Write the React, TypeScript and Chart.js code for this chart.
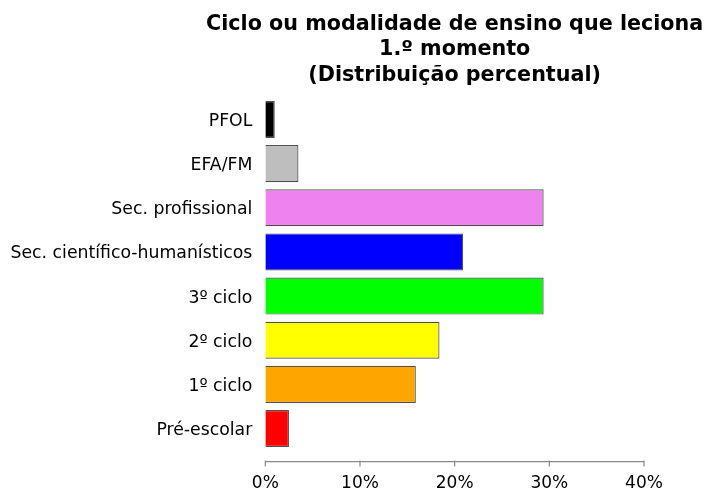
import React, { useEffect, useRef } from "react";
import { Chart, registerables } from "chart.js";

Chart.register(...registerables);

const categories = [
  "PFOL",
  "EFA/FM",
  "Sec. profissional",
  "Sec. científico-humanísticos",
  "3º ciclo",
  "2º ciclo",
  "1º ciclo",
  "Pré-escolar",
];
const values = [1.0, 3.5, 29.4, 20.9, 29.4, 18.4, 15.9, 2.5];
const barColors = [
  "#000000",
  "#BEBEBE",
  "#EE82EE",
  "#0000FF",
  "#00FF00",
  "#FFFF00",
  "#FFA500",
  "#FF0000",
];
const titleLines = [
  "Ciclo ou modalidade de ensino que leciona",
  "1.º momento",
  "(Distribuição percentual)",
];
const xTicks = [0, 10, 20, 30, 40];

const FONT = "'DejaVu Sans', sans-serif";

const axisPlugin = {
  id: "offsetAxis",
  afterDraw(chart: any) {
    const { ctx, chartArea, scales } = chart;
    const x = scales.x;
    const y = chartArea.bottom + 11;
    ctx.save();
    ctx.strokeStyle = "#8a8a8a";
    ctx.lineWidth = 1.2;
    ctx.beginPath();
    ctx.moveTo(x.getPixelForValue(xTicks[0]), y);
    ctx.lineTo(x.getPixelForValue(xTicks[xTicks.length - 1]), y);
    for (const t of xTicks) {
      const px = x.getPixelForValue(t);
      ctx.moveTo(px, y - 1);
      ctx.lineTo(px, y + 5);
    }
    ctx.stroke();
    ctx.restore();
  },
};

const titlePlugin = {
  id: "centeredTitle",
  afterDraw(chart: any) {
    const { ctx, chartArea } = chart;
    const cx = (chartArea.left + chartArea.right) / 2;
    ctx.save();
    ctx.fillStyle = "#000";
    ctx.font = `bold 20.7px ${FONT}`;
    ctx.textAlign = "center";
    ctx.textBaseline = "alphabetic";
    const baselines = [29.5, 55, 80.5];
    titleLines.forEach((line, i) => ctx.fillText(line, cx, baselines[i]));
    ctx.restore();
  },
};

export default function App() {
  const ref = useRef<HTMLCanvasElement | null>(null);
  useEffect(() => {
    if (!ref.current) return;
    const chart = new Chart(ref.current, {
      type: "bar",
      data: {
        labels: categories,
        datasets: [
          {
            data: values,
            backgroundColor: barColors,
            borderColor: "#505050",
            borderWidth: 1.2,
            categoryPercentage: 1,
            barPercentage: 0.84,
          },
        ],
      },
      options: {
        indexAxis: "y",
        animation: false,
        responsive: false,
        maintainAspectRatio: false,
        layout: { padding: { left: 0, right: 61, top: 97.4, bottom: 0 } },
        plugins: {
          legend: { display: false },
          tooltip: { enabled: false },
          title: { display: false },
        },
        scales: {
          x: {
            type: "linear",
            min: 0,
            max: 40,
            afterBuildTicks(scale: any) {
              scale.ticks = xTicks.map((v) => ({ value: v }));
            },
            afterFit(scale: any) {
              scale.height = 39.4;
            },
            border: { display: false },
            grid: { display: false, drawTicks: false },
            ticks: {
              color: "#000",
              font: { family: FONT, size: 17 },
              padding: 23,
              maxRotation: 0,
              callback: (v: any) => `${v}%`,
            },
          },
          y: {
            type: "category",
            afterFit(scale: any) {
              scale.width = 265.3;
            },
            border: { display: false },
            grid: { display: false, drawTicks: false },
            ticks: {
              color: "#000",
              font: { family: FONT, size: 17.3 },
              padding: 13,
              labelOffset: 2,
            },
          },
        },
      },
      plugins: [axisPlugin, titlePlugin],
    });
    return () => chart.destroy();
  }, []);
  return (
    <div style={{ position: "fixed", left: 0, top: 0, width: 705, height: 490, background: "#fff" }}>
      <canvas ref={ref} width={705} height={490} style={{ width: 705, height: 490 }} />
    </div>
  );
}
